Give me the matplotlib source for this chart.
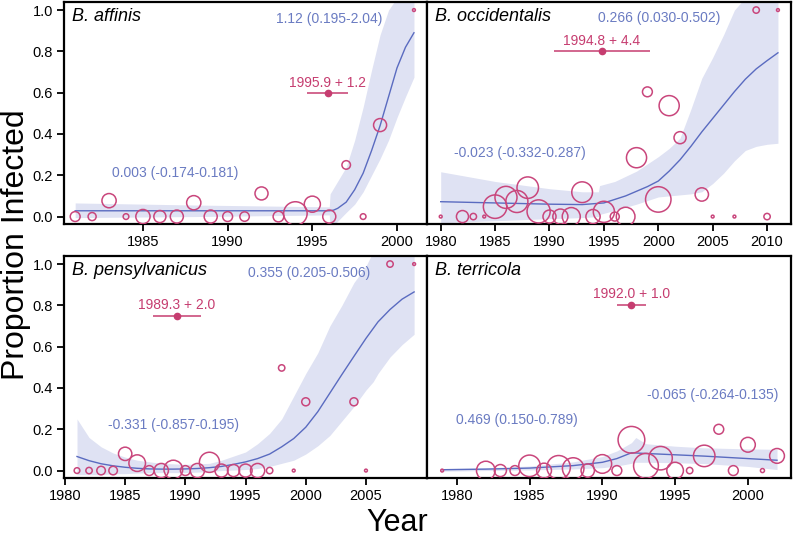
import numpy as np
import matplotlib
matplotlib.use("Agg")
import matplotlib.pyplot as plt

plt.rcParams['font.family'] = ['Liberation Sans', 'DejaVu Sans']

# ===== B. affinis =====
aff_year = [1981, 1982, 1983, 1984, 1985, 1986, 1987, 1988, 1989, 1990,
            1991, 1992, 1993, 1994, 1995, 1996, 1997, 1998, 1999, 2001]
aff_prop = [0, 0, 0.077, 0, 0, 0, 0, 0.067, 0, 0,
            0, 0.112, 0, 0.015, 0.06, 0, 0.25, 0, 0.443, 1.0]
aff_n    = [12, 8, 25, 4, 25, 18, 21, 25, 21, 12,
            11, 21, 14, 68, 32, 21, 9, 4, 21, 1]
aff_fit_x = [1981, 1996, 1996.25, 1996.5, 1997, 1997.5, 1998, 1998.5, 1999, 1999.5, 2000, 2000.5, 2001]
aff_fit_y = [0.028, 0.028, 0.031, 0.04, 0.07, 0.13, 0.21, 0.32, 0.44, 0.58, 0.72, 0.82, 0.89]
aff_ci_x  = [1981, 1988, 1996, 1996.05, 1997, 1997.5, 1998, 1998.5, 1999, 1999.5, 2000, 2000.5, 2001]
aff_ci_lo = [-0.005, 0.0, 0.008, -0.06, 0.02, 0.06, 0.12, 0.2, 0.28, 0.37, 0.48, 0.58, 0.675]
aff_ci_hi = [0.066, 0.056, 0.047, 0.11, 0.24, 0.37, 0.53, 0.71, 0.88, 1.0, 1.06, 1.06, 1.06]

# ===== B. occidentalis =====
occ_year = [1980, 1982, 1983, 1984, 1985, 1986, 1987, 1988, 1989, 1990,
            1991, 1992, 1993, 1994, 1995, 1996, 1997, 1998, 1999, 2000,
            2001, 2002, 2004, 2005, 2007, 2009, 2010, 2011]
occ_prop = [0, 0, 0, 0, 0.048, 0.093, 0.073, 0.14, 0.025, 0,
            0, 0, 0.118, 0, 0.023, 0, 0, 0.285, 0.604, 0.083,
            0.537, 0.382, 0.107, 0, 0, 1.0, 0, 1.0]
occ_n    = [1, 18, 5, 1, 68, 60, 60, 57, 66, 21,
            28, 40, 53, 25, 55, 10, 43, 50, 12, 80,
            50, 18, 22, 1, 1, 5, 5, 1]
occ_fit_x = [1980, 1985, 1990, 1993, 1995, 1997, 1999, 2000, 2001, 2002,
             2003, 2004, 2005, 2006, 2007, 2008, 2009, 2010, 2011]
occ_fit_y = [0.072, 0.066, 0.06, 0.058, 0.066, 0.10, 0.145, 0.172, 0.22, 0.275,
             0.34, 0.41, 0.475, 0.54, 0.605, 0.665, 0.715, 0.755, 0.793]
occ_ci_x  = [1980, 1985, 1990, 1993, 1994.5, 1994.6, 1996, 1998, 2000, 2001,
             2002, 2003, 2004, 2005, 2006, 2007, 2008, 2009, 2010, 2011]
occ_ci_lo = [-0.03, -0.02, -0.01, -0.005, 0.0, 0.01, 0.03, 0.06, 0.095, 0.1,
             0.105, 0.11, 0.12, 0.16, 0.21, 0.27, 0.32, 0.34, 0.35, 0.355]
occ_ci_hi = [0.217, 0.17, 0.135, 0.12, 0.12, 0.15, 0.17, 0.22, 0.29, 0.33,
             0.38, 0.52, 0.67, 0.77, 0.88, 1.0, 1.06, 1.06, 1.06, 1.06]

# ===== B. pensylvanicus =====
pen_year = [1981, 1982, 1983, 1984, 1985, 1986, 1987, 1988, 1989, 1990,
            1991, 1992, 1993, 1994, 1995, 1996, 1997, 1998, 1999, 2000,
            2004, 2005, 2007, 2009]
pen_prop = [0, 0, 0, 0, 0.081, 0.036, 0, 0, 0.005, 0,
            0, 0.04, 0, 0, 0, 0, 0, 0.497, 0, 0.333,
            0.333, 0, 1.0, 1.0]
pen_n    = [4, 5, 9, 9, 22, 34, 12, 25, 43, 12,
            25, 50, 21, 18, 21, 25, 5, 5, 1, 8,
            8, 1, 5, 1]
pen_fit_x = [1981, 1982, 1983, 1984, 1985, 1986, 1987, 1988, 1989, 1990,
             1991, 1992, 1993, 1994, 1995, 1996, 1997, 1998, 1999, 2000,
             2001, 2002, 2003, 2004, 2005, 2006, 2007, 2008, 2009]
pen_fit_y = [0.068, 0.048, 0.033, 0.023, 0.016, 0.011, 0.008, 0.007, 0.007, 0.008,
             0.01, 0.014, 0.02, 0.03, 0.042, 0.058, 0.08, 0.115, 0.155, 0.21,
             0.285, 0.375, 0.465, 0.553, 0.64, 0.72, 0.78, 0.83, 0.865]
pen_ci_x  = [1981, 1982, 1983, 1984, 1985, 1986, 1988, 1990, 1992, 1993,
             1995, 1996, 1997, 1998, 1999, 2000, 2001, 2002, 2003, 2004,
             2005, 2005.6, 2006, 2007, 2008, 2009]
pen_ci_lo = [-0.02, -0.02, -0.02, -0.015, -0.015, -0.012, -0.01, -0.01, -0.005, 0.0,
             0.005, 0.01, 0.02, 0.035, 0.05, 0.08, 0.12, 0.17, 0.24, 0.31,
             0.39, 0.43, 0.47, 0.55, 0.61, 0.66]
pen_ci_hi = [0.25, 0.16, 0.115, 0.085, 0.065, 0.05, 0.035, 0.03, 0.035, 0.05,
             0.09, 0.13, 0.18, 0.25, 0.36, 0.47, 0.57, 0.70, 0.80, 0.91,
             0.99, 1.06, 1.06, 1.06, 1.06, 1.06]

# ===== B. terricola =====
ter_year = [1979, 1982, 1983, 1984, 1985, 1986, 1987, 1988, 1989, 1990,
            1991, 1992, 1993, 1994, 1995, 1996, 1997, 1998, 1999, 2000,
            2001, 2002]
ter_prop = [0, 0, 0, 0, 0.023, 0, 0.016, 0.01, 0, 0.032,
            0, 0.149, 0.023, 0.06, 0, 0, 0.071, 0.2, 0, 0.125,
            0, 0.071]
ter_n    = [1, 43, 18, 12, 57, 27, 68, 57, 22, 43,
            12, 88, 76, 68, 34, 5, 57, 12, 12, 27,
            2, 27]
ter_fit_x = [1979, 1982, 1985, 1988, 1990, 1991, 1992, 1997, 2002]
ter_fit_y = [0.004, 0.007, 0.012, 0.024, 0.04, 0.058, 0.086, 0.07, 0.05]
ter_ci_x  = [1979, 1982, 1985, 1988, 1990, 1991, 1992, 1992.3, 1993, 1995, 1997, 2000, 2002]
ter_ci_lo = [-0.003, 0.0, 0.003, 0.008, 0.014, 0.022, 0.035, 0.04, 0.04, 0.038, 0.034, 0.02, 0.005]
ter_ci_hi = [0.01, 0.013, 0.022, 0.042, 0.068, 0.095, 0.135, 0.16, 0.13, 0.118, 0.11, 0.105, 0.103]

# onset estimates (mean + se) and slope labels
onset_mean = [1995.9, 1994.8, 1989.3, 1992.0]
onset_err  = [1.2, 4.4, 2.0, 1.0]
species    = ["B. affinis", "B. occidentalis", "B. pensylvanicus", "B. terricola"]
slope_pre  = ["0.003 (-0.174-0.181)", "-0.023 (-0.332-0.287)",
              "-0.331 (-0.857-0.195)", "0.469 (0.150-0.789)"]
slope_post = ["1.12 (0.195-2.04)", "0.266 (0.030-0.502)",
              "0.355 (0.205-0.506)", "-0.065 (-0.264-0.135)"]

PINK = '#c9467c'
PINK_TXT = '#c63d70'
BLUE_TXT = '#6a7bc2'
BLUE_LINE = '#5a6bc0'
BAND = '#dfe2f3'

fig = plt.figure(figsize=(7.96, 5.39), dpi=100)
W, H = 796, 539


def make_ax(left, top, right, bottom):
    return fig.add_axes([left / W, 1 - bottom / H, (right - left) / W, (bottom - top) / H])


def panel(ax, yr, prop, n, fx, fy, bx, blo, bhi):
    ax.fill_between(bx, blo, bhi, color=BAND, lw=0, zorder=1)
    ax.plot(fx, fy, color=BLUE_LINE, lw=1.0, zorder=2)
    ax.scatter(yr, prop, s=np.array(n) * 4.2, facecolors='none',
               edgecolors=PINK, linewidths=1.1, zorder=3)
    ax.set_ylim(-0.036, 1.039)
    for s in ax.spines.values():
        s.set_linewidth(1.6)
    ax.tick_params(direction='out', length=5, width=1.3, labelsize=10.5, pad=3)


ax1 = make_ax(64, 2, 427, 224)
ax2 = make_ax(427, 2, 791, 224)
ax3 = make_ax(64, 256, 427, 478)
ax4 = make_ax(427, 256, 791, 478)

panel(ax1, aff_year, aff_prop, aff_n, aff_fit_x, aff_fit_y, aff_ci_x, aff_ci_lo, aff_ci_hi)
panel(ax2, occ_year, occ_prop, occ_n, occ_fit_x, occ_fit_y, occ_ci_x, occ_ci_lo, occ_ci_hi)
panel(ax3, pen_year, pen_prop, pen_n, pen_fit_x, pen_fit_y, pen_ci_x, pen_ci_lo, pen_ci_hi)
panel(ax4, ter_year, ter_prop, ter_n, ter_fit_x, ter_fit_y, ter_ci_x, ter_ci_lo, ter_ci_hi)

ax1.set_xlim(1980.34, 2001.77); ax1.set_xticks([1985, 1990, 1995, 2000])
ax2.set_xlim(1978.74, 2012.2);  ax2.set_xticks([1980, 1985, 1990, 1995, 2000, 2005, 2010])
ax3.set_xlim(1979.92, 2010.07); ax3.set_xticks([1980, 1985, 1990, 1995, 2000, 2005])
ax4.set_xlim(1977.96, 2002.96); ax4.set_xticks([1980, 1985, 1990, 1995, 2000])

for ax in (ax1, ax3):
    ax.set_yticks([0, 0.2, 0.4, 0.6, 0.8, 1.0])
    ax.set_yticklabels(["0.0", "0.2", "0.4", "0.6", "0.8", "1.0"])
for ax in (ax2, ax4):
    ax.tick_params(axis='y', left=False, labelleft=False)

# pinkish ticks in the first panel, as in the original
for t in ax1.xaxis.get_major_ticks()[:3]:
    t.tick1line.set_color('#d98aa8')

axes = [ax1, ax2, ax3, ax4]
err_y = [0.6, 0.8, 0.75, 0.8]
onset_txt_y = [0.646, 0.85, 0.80, 0.853]
pre_pos = [(1986.9, 0.21), (1987.3, 0.31), (1989.0, 0.22), (1984.1, 0.243)]
post_pos = [(1996.0, 0.956), (2000.1, 0.96), (2000.3, 0.958), (1997.6, 0.367)]

for i, ax in enumerate(axes):
    ax.text(0.022, 0.933, species[i], transform=ax.transAxes, fontsize=13,
            style='italic', ha='left', va='center')
    ax.errorbar(onset_mean[i], err_y[i], xerr=onset_err[i], fmt='o', ms=4.5,
                color=PINK_TXT, elinewidth=1.1, capsize=0, zorder=4)
    ax.text(onset_mean[i], onset_txt_y[i], f"{onset_mean[i]:.1f} + {onset_err[i]:.1f}",
            color=PINK_TXT, fontsize=10, ha='center', va='center')
    ax.text(*pre_pos[i], slope_pre[i], color=BLUE_TXT, fontsize=10, ha='center', va='center')
    ax.text(*post_pos[i], slope_post[i], color=BLUE_TXT, fontsize=10, ha='center', va='center')

fig.text(16 / W, 1 - 245 / H, "Proportion Infected", rotation=90, fontsize=23,
         ha='center', va='center')
fig.text(397 / W, 1 - 523 / H, "Year", fontsize=22, ha='center', va='center')

fig.savefig("out.png", dpi=100)
